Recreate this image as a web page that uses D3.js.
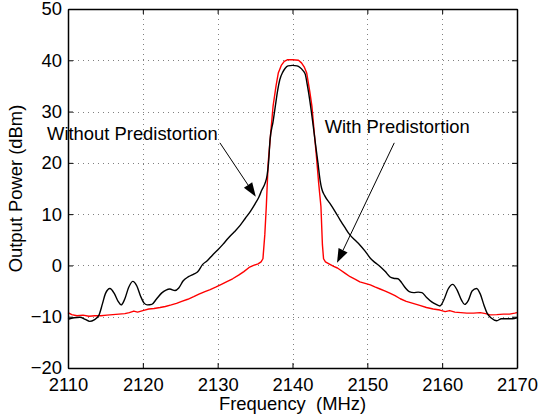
<!DOCTYPE html>
<html>
<head>
<meta charset="utf-8">
<script src="https://cdn.jsdelivr.net/npm/d3@7"></script>
<style>
  html, body { margin: 0; padding: 0; background: #fff; }
  svg { display: block; font-family: "Liberation Sans", Arial, Helvetica, sans-serif; }
</style>
</head>
<body>
<svg id="chart" width="539" height="418"></svg>
<script>
// Output spectrum of the amplifier, with and without predistortion (frequency MHz, power dBm)
const freqWithout = [2110.0,2110.8,2111.6,2112.3,2112.9,2113.5,2114.1,2114.6,2115.0,2115.6,2116.2,2116.7,2117.1,2117.6,2118.1,2118.65,2119.2,2119.7,2120.2,2120.6,2121.2,2121.8,2122.5,2123.1,2123.6,2124.3,2124.8,2125.4,2126.1,2126.8,2127.3,2128.0,2128.6,2129.3,2130.0,2130.7,2131.4,2132.2,2133.0,2133.7,2134.4,2135.0,2135.5,2135.9,2136.3,2136.6,2136.8,2137.0,2137.4,2137.7,2138.0,2138.3,2138.7,2139.0,2139.4,2140.0,2140.6,2141.0,2141.4,2141.7,2142.0,2142.3,2142.7,2143.0,2143.4,2143.7,2143.9,2144.3,2145.0,2145.7,2146.35,2147.0,2147.7,2148.3,2149.0,2149.7,2150.4,2151.0,2151.7,2152.4,2153.0,2153.5,2154.1,2154.6,2155.1,2155.6,2156.2,2156.8,2157.3,2157.9,2158.6,2159.2,2159.7,2160.2,2160.8,2161.4,2162.0,2162.6,2163.0,2163.5,2164.0,2164.6,2165.1,2165.6,2166.0,2166.6,2167.3,2167.9,2168.7,2169.4,2170.0];
const powerWithout = [-10.5,-10.2,-10.1,-10.5,-10.9,-10.6,-9.8,-7.5,-5.5,-4.5,-5.5,-7.0,-7.7,-6.5,-4.3,-3.1,-4.0,-6.0,-7.4,-7.7,-7.6,-6.6,-5.4,-4.8,-4.6,-4.9,-4.4,-3.0,-2.2,-1.7,-1.3,0.2,0.9,2.0,3.0,4.1,5.3,6.5,7.8,9.2,10.6,12.0,13.3,14.7,15.9,17.5,20.0,24.5,28.0,31.0,34.0,36.2,37.7,38.4,38.9,39.0,38.9,38.6,38.0,37.3,35.0,32.3,28.0,24.5,20.0,16.5,15.0,13.6,12.1,10.5,8.9,7.4,5.9,5.0,4.0,2.8,1.4,0.6,-0.2,-1.2,-2.2,-2.5,-2.6,-3.4,-4.4,-5.1,-5.3,-5.2,-5.3,-6.2,-7.1,-7.6,-7.9,-6.8,-4.6,-3.7,-4.8,-6.8,-7.6,-6.8,-5.0,-4.5,-5.6,-7.8,-9.3,-10.3,-10.8,-10.4,-10.4,-10.4,-10.2];

const freqWith = [2110.0,2110.5,2111.2,2112.0,2112.8,2113.6,2114.4,2115.2,2116.0,2116.8,2117.6,2118.2,2118.8,2119.3,2120.0,2120.8,2121.5,2122.3,2123.0,2123.8,2124.5,2125.2,2126.0,2126.8,2127.5,2128.3,2129.0,2129.8,2130.5,2131.3,2132.0,2132.8,2133.5,2134.2,2134.8,2135.4,2135.8,2136.05,2136.3,2136.5,2136.75,2137.1,2137.4,2137.8,2138.1,2138.5,2138.9,2139.3,2140.0,2140.8,2141.2,2141.6,2141.9,2142.3,2142.6,2142.9,2143.2,2143.5,2143.8,2144.0,2144.15,2144.4,2145.0,2145.5,2146.0,2146.4,2147.0,2147.7,2148.4,2149.0,2149.7,2150.4,2151.0,2151.7,2152.4,2153.0,2153.7,2154.4,2155.2,2156.1,2157.0,2157.9,2158.8,2159.7,2160.4,2161.0,2161.7,2162.5,2163.3,2164.2,2165.1,2165.8,2166.4,2167.3,2168.2,2169.0,2169.7,2170.0];
const powerWith = [-9.2,-9.6,-9.8,-9.7,-9.9,-9.8,-9.8,-9.7,-9.6,-9.5,-9.4,-9.2,-8.9,-9.1,-8.8,-8.5,-8.4,-8.2,-8.0,-7.7,-7.4,-7.0,-6.6,-6.1,-5.6,-5.1,-4.7,-4.2,-3.7,-3.1,-2.6,-1.9,-1.2,-0.4,0.0,0.3,0.7,1.3,6.0,11.5,20.0,26.0,31.0,35.0,37.5,39.0,39.8,40.1,40.1,40.0,39.5,38.6,37.5,34.0,31.0,26.0,21.2,16.0,11.5,4.0,1.3,0.7,0.2,-0.2,-0.5,-0.9,-1.5,-2.2,-2.7,-3.2,-3.5,-3.8,-4.2,-4.6,-5.0,-5.4,-5.9,-6.5,-7.0,-7.4,-7.8,-8.2,-8.5,-8.7,-9.0,-8.8,-9.1,-9.2,-9.3,-9.3,-9.2,-9.4,-9.65,-9.6,-9.5,-9.5,-9.3,-9.2];

const xTicks = [2110, 2120, 2130, 2140, 2150, 2160, 2170];
const yTicks = [-20, -10, 0, 10, 20, 30, 40, 50];

// Callouts: label anchor and arrow (tail -> head), in data units
const labelText = ["Without Predistortion", "With Predistortion"];
const labelAt = [[2107.2, 24.4], [2144.3, 25.8]];
const arrowTail = [[2130.3, 23.9], [2153.6, 23.9]];
const arrowHead = [[2135.1, 13.4], [2145.95, 0.5]];

const margin = { left: 68, right: 22, top: 9, bottom: 50 };
const W = 539, H = 418;
const FONT = 18.4;
const svg = d3.select("#chart");

const x = d3.scaleLinear().domain([2110, 2170]).range([margin.left, W - margin.right]);
const y = d3.scaleLinear().domain([-20, 50]).range([H - margin.bottom, margin.top]);

const x0 = x.range()[0], x1 = x.range()[1], y0 = y.range()[0], y1 = y.range()[1];

// dotted grid
const grid = svg.append("g").attr("stroke", "#808080").attr("stroke-width", 1).attr("stroke-dasharray", "1,4");
grid.selectAll("line.vx").data(xTicks.slice(1, -1)).join("line")
  .attr("x1", d => Math.round(x(d)) + 0.5).attr("x2", d => Math.round(x(d)) + 0.5)
  .attr("y1", y1).attr("y2", y0);
grid.selectAll("line.hy").data(yTicks.slice(1, -1)).join("line")
  .attr("y1", d => Math.round(y(d)) + 0.5).attr("y2", d => Math.round(y(d)) + 0.5)
  .attr("x1", x0).attr("x2", x1);

// spectra
const lineOf = (fx, py, curve) => d3.line()
  .x((d, i) => x(fx[i])).y((d, i) => y(py[i])).curve(curve);

svg.append("path").datum(powerWith)
  .attr("d", lineOf(freqWith, powerWith, d3.curveLinear))
  .attr("fill", "none").attr("stroke", "#ff0000").attr("stroke-width", 1.4).attr("stroke-linejoin", "round");

svg.append("path").datum(powerWithout)
  .attr("d", lineOf(freqWithout, powerWithout, d3.curveMonotoneX))
  .attr("fill", "none").attr("stroke", "#000").attr("stroke-width", 1.4).attr("stroke-linejoin", "round");

// axes: bottom/left carry labels, top/right close the box; ticks point inward
const tickLen = 5;
const minus = d => (d < 0 ? "\u2212" + Math.abs(d) : String(d));
const axB = d3.axisBottom(x).tickValues(xTicks).tickSize(-tickLen).tickSizeOuter(0).tickPadding(10).tickFormat(d3.format("d"));
const axT = d3.axisTop(x).tickValues(xTicks).tickSize(-tickLen).tickSizeOuter(0).tickFormat("");
const axL = d3.axisLeft(y).tickValues(yTicks).tickSize(-tickLen).tickSizeOuter(0).tickPadding(6).tickFormat(minus);
const axR = d3.axisRight(y).tickValues(yTicks).tickSize(-tickLen).tickSizeOuter(0).tickFormat("");

function styleAxis(g) {
  g.select(".domain").attr("stroke", "#000").attr("stroke-width", 1.5);
  g.selectAll(".tick line").attr("stroke", "#000").attr("stroke-width", 1);
  g.selectAll(".tick text").attr("fill", "#000").attr("font-size", FONT)
    .attr("font-family", '"Liberation Sans", Arial, sans-serif');
}
svg.append("g").attr("transform", `translate(0,${y0})`).call(axB).call(styleAxis);
svg.append("g").attr("transform", `translate(0,${y1})`).call(axT).call(styleAxis);
svg.append("g").attr("transform", `translate(${x0},0)`).call(axL).call(styleAxis);
svg.append("g").attr("transform", `translate(${x1},0)`).call(axR).call(styleAxis);

// axis titles
svg.append("text").attr("x", (x0 + x1) / 2).attr("y", 410).attr("text-anchor", "middle")
  .style("white-space", "pre").attr("xml:space", "preserve")
  .attr("font-size", FONT).attr("fill", "#000").text("Frequency  (MHz)");
svg.append("text").attr("transform", `translate(22,${(y0 + y1) / 2}) rotate(-90)`)
  .attr("text-anchor", "middle").attr("font-size", FONT).attr("fill", "#000").text("Output Power (dBm)");

// callout labels and arrows
const callouts = labelText.map((t, i) => ({ t, at: labelAt[i], tail: arrowTail[i], head: arrowHead[i] }));
const cg = svg.append("g");
cg.selectAll("text").data(callouts).join("text")
  .attr("x", d => x(d.at[0])).attr("y", d => y(d.at[1]))
  .attr("font-size", FONT).attr("fill", "#000").text(d => d.t);

callouts.forEach(d => {
  const tx = x(d.tail[0]), ty = y(d.tail[1]), hx = x(d.head[0]), hy = y(d.head[1]);
  const ang = Math.atan2(hy - ty, hx - tx);
  const len = 14, half = 5;
  const bx = hx - len * Math.cos(ang), by = hy - len * Math.sin(ang);
  cg.append("line").attr("x1", tx).attr("y1", ty).attr("x2", bx).attr("y2", by)
    .attr("stroke", "#000").attr("stroke-width", 1);
  const px = -Math.sin(ang), py = Math.cos(ang);
  cg.append("path")
    .attr("d", `M${hx},${hy}L${bx + half * px},${by + half * py}L${bx - half * px},${by - half * py}Z`)
    .attr("fill", "#000");
});
</script>
</body>
</html>
